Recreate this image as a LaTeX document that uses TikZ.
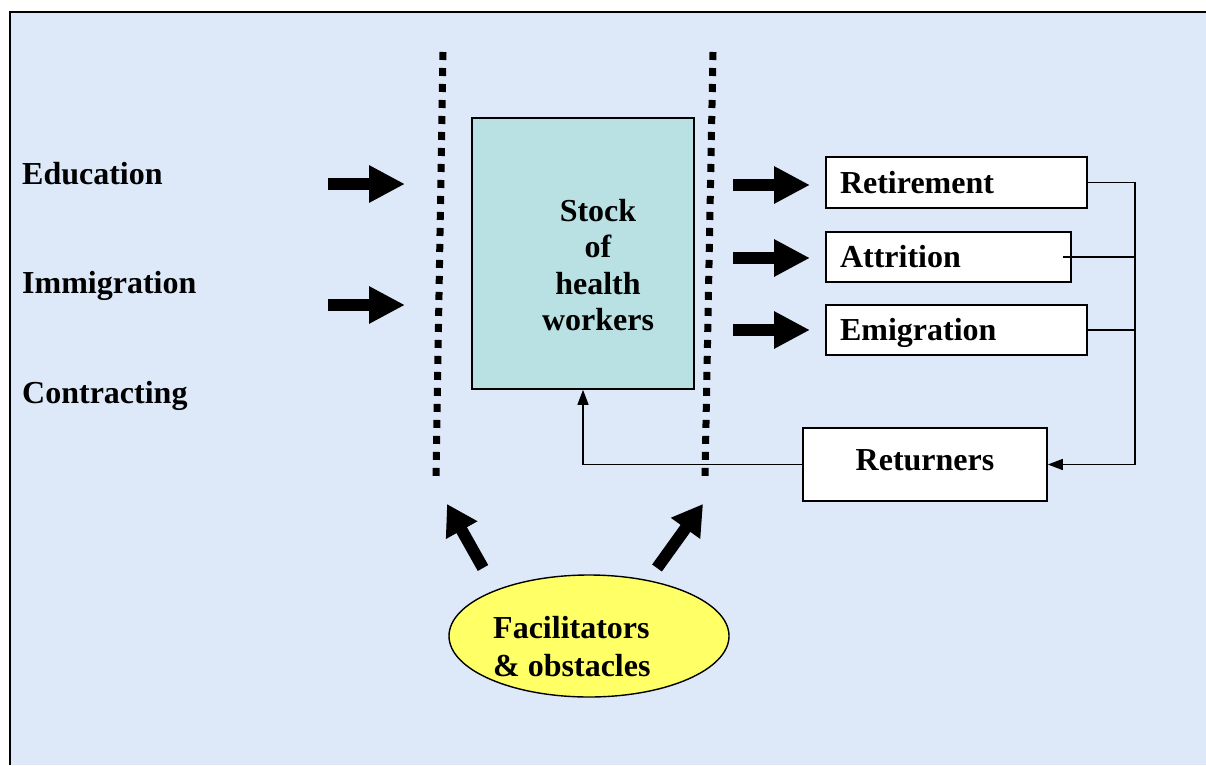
\documentclass[tikz,border=0pt]{standalone}
\usepackage{fontspec}
\setmainfont{Liberation Serif}
\usetikzlibrary{arrows.meta,shapes.geometric,calc}
\definecolor{bgblue}{RGB}{221,233,248}
\definecolor{stockteal}{RGB}{185,224,226}
\definecolor{facyellow}{RGB}{255,255,102}
\tikzset{
  lbl/.style={font=\bfseries\fontsize{32}{36.5}\selectfont, inner sep=0pt},
  outbox/.style={draw, line width=1.6pt, fill=white, rectangle, font=\bfseries\fontsize{32}{36.5}\selectfont,
    inner xsep=14pt, inner ysep=0pt, align=left, text height=21.6pt, text depth=0pt},
  blockarrow/.style={line width=12pt, -{Triangle[length=36pt,width=35pt]}},
  thinline/.style={line width=1.4pt},
  thinarrow/.style={line width=1.4pt, -{Triangle[length=15pt,width=11pt]}},
  dotline/.style={line width=7pt, dash pattern=on 8pt off 8pt},
}
\begin{document}
\begin{tikzpicture}[x=1pt,y=-1pt]
\useasboundingbox (0,0) rectangle (1206,765);
\fill[white] (0,0) rectangle (1206,765);
\fill[bgblue] (10,12) rectangle (1206,765);
\draw[line width=2pt] (10,765) -- (10,12) -- (1206,12);

% left labels
\node[lbl, anchor=base west] (edu) at (22,184) {Education};
\node[lbl, anchor=base west] (imm) at (22,293) {Immigration};
\node[lbl, anchor=base west] (con) at (22,403) {Contracting};

% dotted boundaries
\coordinate (dl1) at (443,52);
\coordinate (dl2) at (436,476);
\coordinate (dr1) at (713,52);
\coordinate (dr2) at (705,476);
\draw[dotline] (dl1) -- (dl2);
\draw[dotline] (dr1) -- (dr2);

% stock box
\node[draw, line width=1.6pt, fill=stockteal, minimum width=222pt, minimum height=271pt, inner sep=0pt] (stock) at (583,253.5) {};
\node[lbl, align=center, anchor=center] (stocktxt) at (598,265) {Stock\\of\\health\\workers};

% inflow arrows
\coordinate (ia1) at (328,184); \coordinate (ib1) at (405,184);
\coordinate (ia2) at (328,305); \coordinate (ib2) at (405,305);
\draw[blockarrow] (ia1) -- (ib1);
\draw[blockarrow] (ia2) -- (ib2);

% outflow boxes
\node[outbox, text width=233pt, minimum height=51pt] (ret) at (956.5,182.5) {Retirement};
\node[outbox, text width=217pt, minimum height=50pt] (att) at (948.5,257) {Attrition};
\node[outbox, text width=233pt, minimum height=50pt] (emi) at (956.5,330) {Emigration};
\node[outbox, align=center, text width=216pt, minimum height=73pt, text depth=10.6pt] (retn) at (925,464.5) {Returners};

% outflow arrows
\coordinate (oa1) at (733,185); \coordinate (ob1) at (810,185);
\coordinate (oa2) at (733,258); \coordinate (ob2) at (810,258);
\coordinate (oa3) at (733,330); \coordinate (ob3) at (810,330);
\draw[blockarrow] (oa1) -- (ob1);
\draw[blockarrow] (oa2) -- (ob2);
\draw[blockarrow] (oa3) -- (ob3);

% return loop
\coordinate (bus1) at (1135,182.5);
\coordinate (bus4) at (1135,464.5);
\draw[thinline] (ret.east) -- (bus1) -- (bus4);
\draw[thinline] ([xshift=-9pt]att.east) -- (att.east -| bus1);
\draw[thinline] (emi.east) -- (emi.east -| bus1);
\draw[thinarrow] (bus4) -- (retn.east);
\draw[thinarrow] (retn.west) -| (stock.south);

% facilitators
\node[draw, line width=1.4pt, fill=facyellow, ellipse, minimum width=280pt, minimum height=122pt, inner sep=0pt] (fac) at (589,636) {};
\node[lbl, font=\bfseries\fontsize{32}{38}\selectfont, align=left, anchor=west] (factxt) at (493,647) {Facilitators\\\& obstacles};
\coordinate (fa1) at (483,568); \coordinate (fb1) at (447,504);
\coordinate (fa2) at (657,568); \coordinate (fb2) at (703,504);
\draw[blockarrow, -{Triangle[length=30pt,width=34pt]}] (fa1) -- (fb1);
\draw[blockarrow, -{Triangle[length=30pt,width=34pt]}] (fa2) -- (fb2);
\end{tikzpicture}
\end{document}
